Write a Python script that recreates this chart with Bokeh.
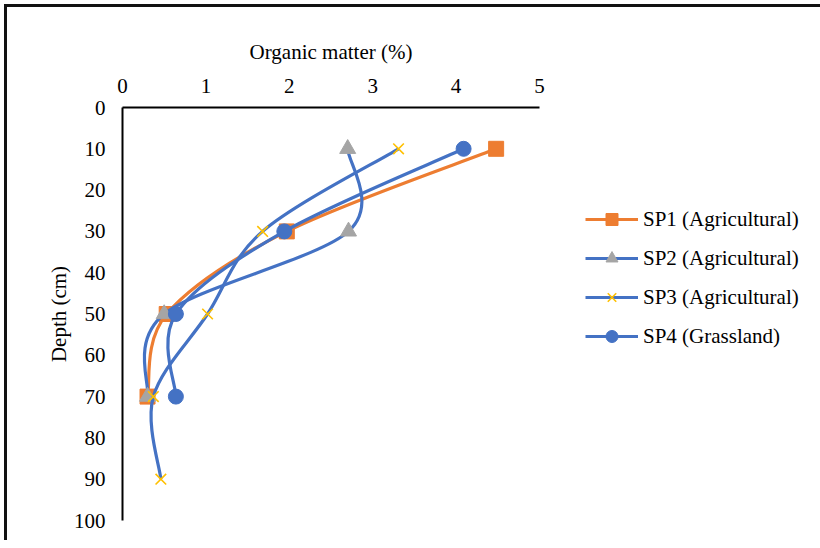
import numpy as np
from bokeh.plotting import figure
from bokeh.models import Range1d, FixedTicker, Legend, LegendItem, ColumnDataSource
from bokeh.embed import file_html
from bokeh.resources import INLINE

# ---- data ----
depth = [10, 30, 50, 70]
depth_sp3 = [10, 30, 50, 70, 90]
sp1 = [4.48, 1.97, 0.53, 0.30]
sp2 = [2.70, 2.71, 0.50, 0.30]
sp3 = [3.31, 1.68, 1.02, 0.37, 0.46]
sp4 = [4.09, 1.94, 0.64, 0.64]
labels = ["SP1 (Agricultural)", "SP2 (Agricultural)", "SP3 (Agricultural)", "SP4 (Grassland)"]
x_ticks = [0, 1, 2, 3, 4, 5]
y_ticks = [0, 10, 20, 30, 40, 50, 60, 70, 80, 90, 100]

FONT = "Liberation Serif"
FS = "21px"


def smooth_source(xs, ys):
    """Bezier control points for a smoothed line (Catmull-Rom style, like spreadsheet smoothing)."""
    P = np.column_stack([xs, ys]).astype(float)
    n = len(P)
    d = dict(x0=[], y0=[], x1=[], y1=[], cx0=[], cy0=[], cx1=[], cy1=[])
    for i in range(n - 1):
        pm = P[max(i - 1, 0)]
        p0 = P[i]
        p1 = P[i + 1]
        pp = P[min(i + 2, n - 1)]
        c0 = p0 + (p1 - pm) / 6.0
        c1 = p1 - (pp - p0) / 6.0
        d["x0"].append(p0[0]); d["y0"].append(p0[1])
        d["x1"].append(p1[0]); d["y1"].append(p1[1])
        d["cx0"].append(c0[0]); d["cy0"].append(c0[1])
        d["cx1"].append(c1[0]); d["cy1"].append(c1[1])
    return ColumnDataSource(d)


p = figure(
    frame_width=417, frame_height=413,
    x_range=Range1d(0, 5), y_range=Range1d(100, 0),
    x_axis_location="above",
    output_backend="svg", toolbar_location=None,
    min_border_left=115, min_border_top=100, min_border_right=270, min_border_bottom=20,
)
p.outline_line_color = None
p.xgrid.visible = False
p.ygrid.visible = False
p.background_fill_color = "white"
p.border_fill_color = "white"

for ax in (p.xaxis[0], p.yaxis[0]):
    ax.major_tick_out = 0
    ax.major_tick_in = 0
    ax.minor_tick_out = 0
    ax.minor_tick_in = 0
    ax.axis_line_color = "black"
    ax.axis_line_width = 2
    ax.major_label_text_font = FONT
    ax.major_label_text_font_size = FS
    ax.major_label_text_color = "black"
    ax.axis_label_text_font = FONT
    ax.axis_label_text_font_size = FS
    ax.axis_label_text_font_style = "normal"
    ax.axis_label_text_color = "black"

p.xaxis[0].ticker = FixedTicker(ticks=x_ticks)
p.yaxis[0].ticker = FixedTicker(ticks=y_ticks)
p.xaxis[0].axis_label = "Organic matter (%)"
p.yaxis[0].axis_label = "Depth (cm)"
p.xaxis[0].major_label_standoff = 15
p.xaxis[0].axis_label_standoff = 12
p.yaxis[0].major_label_standoff = 17
p.yaxis[0].axis_label_standoff = 0

ORANGE = "#ED7D31"
BLUE = "#4472C4"
GRAY = "#A5A5A5"
YELLOW = "#FFC000"

items = []
series = [
    (sp1, depth, ORANGE, "square", ORANGE, 15),
    (sp2, depth, BLUE, "triangle", GRAY, 16),
    (sp3, depth_sp3, BLUE, "x", YELLOW, 15),
    (sp4, depth, BLUE, "circle", BLUE, 15),
]
for (xs, ys, lc, marker, mc, ms), lab in zip(series, labels):
    src = smooth_source(xs, ys)
    r_line = p.bezier(x0="x0", y0="y0", x1="x1", y1="y1", cx0="cx0", cy0="cy0",
                      cx1="cx1", cy1="cy1", source=src, line_color=lc, line_width=3.2)
    if marker == "x":
        r_m = p.scatter(xs, ys, marker="x", size=ms, line_color=mc, line_width=1.6)
    else:
        r_m = p.scatter(xs, ys, marker=marker, size=ms, fill_color=mc, line_color=mc)
    items.append(LegendItem(label=lab, renderers=[r_line, r_m]))

legend = Legend(
    items=items, location=(46, 169),
    glyph_width=53, glyph_height=30, label_height=30, spacing=9,
    label_standoff=5, padding=0, margin=0,
    label_text_font=FONT, label_text_font_size=FS, label_text_color="black",
    border_line_color=None, background_fill_alpha=0,
)
p.add_layout(legend, "right")

p.styles = {"border-style": "solid none none solid", "border-width": "3px 0px 0px 3px",
            "border-color": "#111"}
p.margin = (4, 0, 0, 4)

open("out.html", "w").write(file_html(p, INLINE))
